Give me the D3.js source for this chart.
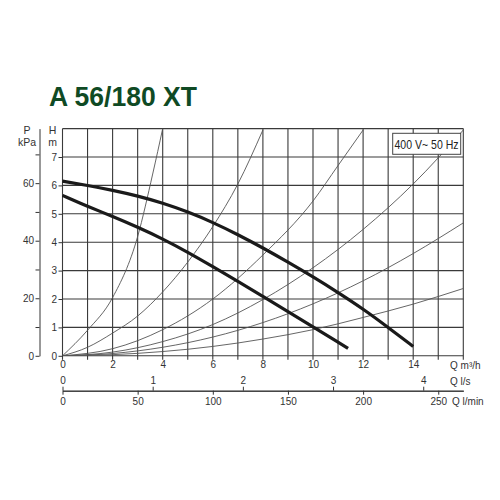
<!DOCTYPE html>
<html>
<head>
<meta charset="utf-8">
<script src="https://cdn.jsdelivr.net/npm/d3@7"></script>
<style>
  body { margin: 0; background: #fff; }
  svg text { font-family: "Liberation Sans", Arial, sans-serif; }
</style>
</head>
<body>
<div id="chart"></div>
<script>
const WIDTH = 500;
const HEIGHT = 500;

// pump curves, Q in m3/h, H in m
const maxQ = [0, 1, 2, 3, 4, 5, 6, 7, 8, 9, 10, 11, 12, 13, 14];
const maxH = [6.15, 6.0, 5.83, 5.63, 5.38, 5.07, 4.7, 4.27, 3.8, 3.3, 2.78, 2.23, 1.65, 1.0, 0.33];
const minQ = [0, 1, 2, 3, 4, 5, 6, 7, 8, 9, 10, 11, 11.4];
const minH = [5.65, 5.26, 4.91, 4.53, 4.12, 3.65, 3.14, 2.62, 2.09, 1.56, 1.02, 0.48, 0.26];

// system curves (thin lines from origin)
const sysA = [[0, 0], [1, 0.9], [2, 2.05], [3, 4.2], [3.6, 6.4], [4, 8]];
const sysB = [[0, 0], [1, 0.3], [2, 0.8], [3, 1.4], [4, 2.25], [5, 3.3], [6, 4.55], [7, 6.05], [8, 7.95]];
const sysC = [[0, 0], [2, 0.25], [4, 0.92], [6, 2.0], [8, 3.55], [10, 5.45], [11, 6.7], [12, 7.95]];
const sysD = [[0, 0], [2, 0.13], [4, 0.5], [6, 1.1], [8, 1.98], [10, 3.1], [12, 4.45], [14, 6.05], [16, 7.95]];
const sysE = [[0, 0], [2, 0.08], [4, 0.3], [6, 0.66], [8, 1.17], [10, 1.83], [12, 2.64], [14, 3.6], [16, 4.68]];
const sysF = [[0, 0], [2, 0.04], [4, 0.15], [6, 0.33], [8, 0.59], [10, 0.92], [12, 1.35], [14, 1.82], [16, 2.37]];

// tick labels
const qTicks = [0, 2, 4, 6, 8, 10, 12, 14];
const lsTicks = [0, 1, 2, 3, 4];
const lminTicks = [0, 50, 100, 150, 200, 250];
const hTicks = [0, 1, 2, 3, 4, 5, 6, 7];
const pTicks = [0, 10, 20, 30, 40, 50, 60, 70];
const pLabels = [0, 20, 40, 60];

const title = 'A 56/180 XT';
const legendText = '400 V~ 50 Hz';

const X0 = 62.5, X1 = 463.3;
const Y0 = 355.8, Y1 = 128.6;

const x = d3.scaleLinear().domain([0, 16]).range([X0, X1]);
const y = d3.scaleLinear().domain([0, 8]).range([Y0, Y1]);
const xLs = d3.scaleLinear().domain([0, 16 / 3.6]).range([X0, X1]);
const xLmin = d3.scaleLinear().domain([0, 16 / 0.06]).range([X0, X1]);
const yP = d3.scaleLinear().domain([0, 8 * 9.87]).range([Y0, Y1]);

const svg = d3.select('#chart')
    .append('svg')
    .attr('width', WIDTH)
    .attr('height', HEIGHT);

// title
svg.append('text')
    .attr('x', 49)
    .attr('y', 106.3)
    .attr('font-size', 28)
    .attr('font-weight', 'bold')
    .attr('fill', '#0f4a24')
    .attr('textLength', 148)
    .attr('lengthAdjust', 'spacingAndGlyphs')
    .text(title);

// grid
const grid = svg.append('g').attr('stroke', '#3a3a3a').attr('stroke-width', 1.1);
grid.selectAll('line.v')
    .data(d3.range(0, 17))
    .enter()
    .append('line')
    .attr('x1', d => x(d))
    .attr('x2', d => x(d))
    .attr('y1', y(8))
    .attr('y2', y(0) + 4);
grid.selectAll('line.h')
    .data(d3.range(0, 9))
    .enter()
    .append('line')
    .attr('x1', x(0))
    .attr('x2', x(16))
    .attr('y1', d => y(d))
    .attr('y2', d => y(d));

// system curves
const clip = svg.append('clipPath').attr('id', 'plot');
clip.append('rect')
    .attr('x', X0).attr('y', Y1)
    .attr('width', X1 - X0).attr('height', Y0 - Y1);

const sysLine = d3.line()
    .x(d => x(d[0]))
    .y(d => y(d[1]))
    .curve(d3.curveMonotoneX);

svg.append('g')
    .attr('clip-path', 'url(#plot)')
    .selectAll('path')
    .data([sysA, sysB, sysC, sysD, sysE, sysF])
    .enter()
    .append('path')
    .attr('d', sysLine)
    .attr('fill', 'none')
    .attr('stroke', '#555')
    .attr('stroke-width', 0.9);

// pump curves
const pumpLine = d3.line()
    .x(d => x(d.q))
    .y(d => y(d.h))
    .curve(d3.curveBasis);

const maxData = maxQ.map((q, i) => ({ q: q, h: maxH[i] }));
const minData = minQ.map((q, i) => ({ q: q, h: minH[i] }));

svg.selectAll('path.pump')
    .data([maxData, minData])
    .enter()
    .append('path')
    .attr('class', 'pump')
    .attr('d', pumpLine)
    .attr('fill', 'none')
    .attr('stroke', '#1a1a1a')
    .attr('stroke-width', 3.2);

// legend box
svg.append('rect')
    .attr('x', 392.7)
    .attr('y', 133.3)
    .attr('width', 68)
    .attr('height', 21)
    .attr('fill', '#fff')
    .attr('stroke', '#444')
    .attr('stroke-width', 1);
svg.append('text')
    .attr('x', 394.5)
    .attr('y', 149)
    .attr('font-size', 13.5)
    .attr('fill', '#222')
    .attr('textLength', 64)
    .attr('lengthAdjust', 'spacingAndGlyphs')
    .text(legendText);

// H axis
const hAxis = svg.append('g')
    .attr('transform', `translate(${X0},0)`)
    .call(d3.axisLeft(y).tickValues(hTicks).tickSize(4).tickPadding(1.5));
hAxis.select('.domain').remove();

svg.append('text').attr('x', 52.5).attr('y', 133.5).attr('text-anchor', 'middle')
    .attr('font-size', 10.5).attr('fill', '#333').text('H');
svg.append('text').attr('x', 52.5).attr('y', 145.5).attr('text-anchor', 'middle')
    .attr('font-size', 10.5).attr('fill', '#333').text('m');

// P axis
svg.append('g')
    .attr('transform', 'translate(39.5,0)')
    .call(d3.axisLeft(yP)
        .tickValues(pTicks)
        .tickSize(4)
        .tickSizeOuter(0)
        .tickPadding(1.5)
        .tickFormat(d => pLabels.includes(d) ? d : ''));

svg.append('text').attr('x', 27).attr('y', 133.5).attr('text-anchor', 'middle')
    .attr('font-size', 10.5).attr('fill', '#333').text('P');
svg.append('text').attr('x', 27).attr('y', 145.5).attr('text-anchor', 'middle')
    .attr('font-size', 10.5).attr('fill', '#333').text('kPa');

// Q m3/h labels
const qAxis = svg.append('g')
    .attr('transform', `translate(0,${Y0})`)
    .call(d3.axisBottom(x).tickValues(qTicks).tickSize(0).tickPadding(5.5));
qAxis.select('.domain').remove();

svg.append('text').attr('x', 450).attr('y', 368.5)
    .attr('font-size', 10).attr('fill', '#333')
    .text('Q m³/h');

// Q l/s
const AY = 390.7;
svg.append('g')
    .attr('transform', `translate(0,${AY})`)
    .call(d3.axisTop(xLs).tickValues(lsTicks).tickFormat(d3.format('d'))
        .tickSize(4).tickSizeOuter(0).tickPadding(2.5));

svg.append('text').attr('x', 450).attr('y', 384.5)
    .attr('font-size', 10).attr('fill', '#333')
    .text('Q l/s');

// Q l/min
svg.append('g')
    .attr('transform', `translate(0,${AY})`)
    .call(d3.axisBottom(xLmin).tickValues(lminTicks).tickFormat(d3.format('d'))
        .tickSize(4).tickSizeOuter(0).tickPadding(3.4));

svg.append('text').attr('x', 452).attr('y', 405.2)
    .attr('font-size', 10).attr('fill', '#333')
    .text('Q l/min');

svg.selectAll('.tick text')
    .attr('font-family', '"Liberation Sans", Arial, sans-serif')
    .attr('font-size', 10)
    .attr('fill', '#333');
svg.selectAll('.tick line, .domain')
    .attr('stroke', '#333');
</script>
</body>
</html>
